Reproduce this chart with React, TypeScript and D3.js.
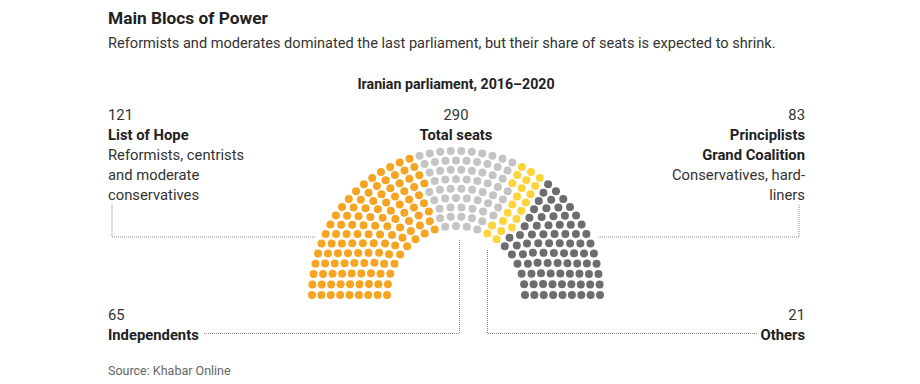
import React, { useEffect, useRef } from 'react';
import * as d3 from 'd3';

// Iranian parliament 2016-2020, seats per bloc (left to right in the hemicycle)
const blocs = ['List of Hope', 'Independents', 'Others', 'Principlists Grand Coalition'];
const seats = [121, 65, 21, 83];
const colors = ['#f6a523', '#c4c4c4', '#fdd43c', '#6d6d6d'];
const rowCount = 9;

const FONT = 'Roboto, "Noto Sans", sans-serif';

const App = () => {
  const svgRef = useRef<SVGSVGElement>(null);

  useEffect(() => {
    const svg = d3.select(svgRef.current);
    svg.selectAll('*').remove();

    const width = 920;
    const height = 384;
    svg.attr('width', width).attr('height', height);

    const cx = 456;
    const cy = 295;
    const total = d3.sum(seats);

    const radius = d3.scaleLinear().domain([0, rowCount - 1]).range([69, 144]);
    const radii = d3.range(rowCount).map(i => radius(i));
    const sumR = d3.sum(radii);

    // seats per row proportional to radius, largest remainder rounding
    const raw = radii.map(r => (total * r) / sumR);
    const perRow = raw.map(Math.floor);
    let left = total - d3.sum(perRow);
    raw
      .map((v, i) => ({ i, rem: v - Math.floor(v) }))
      .sort((a, b) => b.rem - a.rem)
      .forEach(d => {
        if (left > 0) {
          perRow[d.i] += 1;
          left -= 1;
        }
      });

    const points: { x: number; y: number; a: number; r: number }[] = [];
    radii.forEach((r, i) => {
      const n = perRow[i];
      const angle = d3.scaleLinear().domain([0, n - 1]).range([Math.PI, 0]);
      d3.range(n).forEach(j => {
        const a = angle(j);
        points.push({ x: cx + r * Math.cos(a), y: cy - r * Math.sin(a), a, r });
      });
    });
    points.sort((p, q) => q.a - p.a || p.r - q.r);

    const bounds = d3.cumsum(seats);
    const party = (k: number) => bounds.findIndex(b => k < b);

    svg.append('g')
      .selectAll('circle')
      .data(points)
      .enter()
      .append('circle')
      .attr('cx', d => d.x)
      .attr('cy', d => d.y)
      .attr('r', 4)
      .attr('fill', (d, k) => colors[party(k)]);

    // leader lines
    const leaders = [
      [[112, 205], [112, 237], [316, 237]],
      [[799, 205], [799, 237], [598, 237]],
      [[204, 333.5], [459.5, 333.5], [459.5, 239]],
      [[757, 333.5], [487.5, 333.5], [487.5, 249]],
    ];
    svg.append('g')
      .selectAll('path')
      .data(leaders)
      .enter()
      .append('path')
      .attr('d', d => d3.line()(d as [number, number][]))
      .attr('fill', 'none')
      .attr('stroke', '#8a8a8a')
      .attr('stroke-width', 1)
      .attr('stroke-dasharray', '1,1');

    const text = (x: number, y: number, s: string, opts: any = {}) =>
      svg.append('text')
        .attr('x', x)
        .attr('y', y)
        .attr('font-family', FONT)
        .attr('font-size', opts.size || 14.8)
        .attr('font-weight', opts.bold ? 700 : 400)
        .attr('fill', opts.fill || '#333')
        .attr('text-anchor', opts.anchor || 'start')
        .text(s);

    text(108, 24, 'Main Blocs of Power', { size: 17.3, bold: true, fill: '#222' });
    text(108, 48, 'Reformists and moderates dominated the last parliament, but their share of seats is expected to shrink.', { size: 14.6 });
    text(456, 89, 'Iranian parliament, 2016\u20132020', { size: 14.2, bold: true, anchor: 'middle', fill: '#222' });

    text(108, 120, String(seats[0]));
    text(108, 140, 'List of Hope', { bold: true, fill: '#222' });
    text(108, 160, 'Reformists, centrists');
    text(108, 180, 'and moderate');
    text(108, 200, 'conservatives');

    text(456, 120, String(total), { anchor: 'middle' });
    text(456, 140, 'Total seats', { anchor: 'middle', bold: true, fill: '#222' });

    text(805, 120, String(seats[3]), { anchor: 'end' });
    text(805, 140, 'Principlists', { anchor: 'end', bold: true, fill: '#222' });
    text(805, 160, 'Grand Coalition', { anchor: 'end', bold: true, fill: '#222' });
    text(805, 180, 'Conservatives, hard-', { anchor: 'end' });
    text(805, 200, 'liners', { anchor: 'end' });

    text(108, 320, String(seats[1]));
    text(108, 340, 'Independents', { bold: true, fill: '#222' });

    text(805, 320, String(seats[2]), { anchor: 'end' });
    text(805, 340, 'Others', { anchor: 'end', bold: true, fill: '#222' });

    text(108, 375, 'Source: Khabar Online', { size: 12.5, fill: '#666' });
  }, []);

  return (
    <svg
      ref={svgRef}
      viewBox="0 0 920 384"
      style={{ position: 'absolute', left: 0, top: 0, display: 'block', background: '#fff' }}
    />
  );
};

export default App;
